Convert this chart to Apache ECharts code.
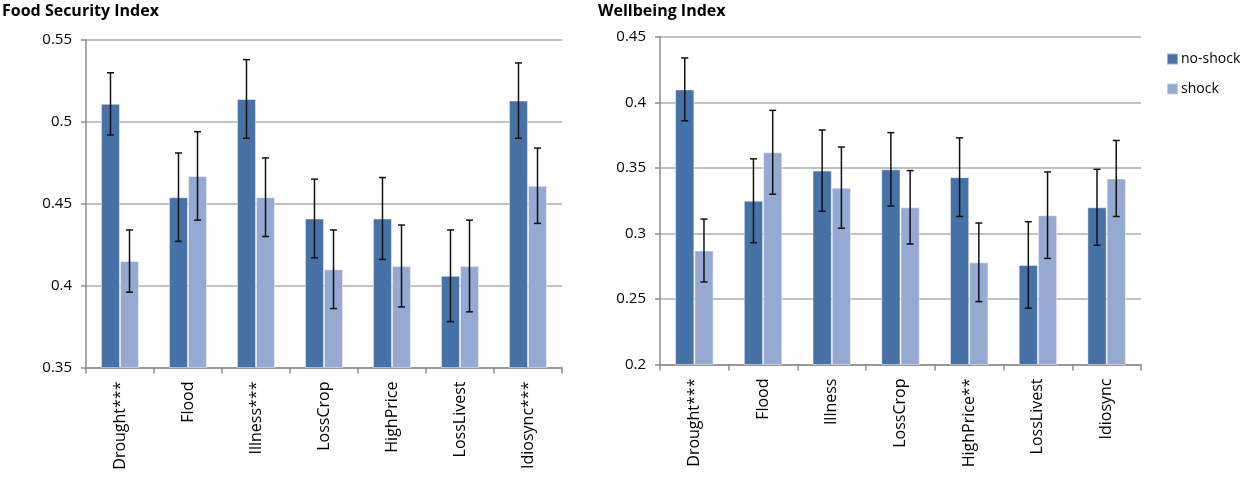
<!DOCTYPE html>
<html>
<head>
<meta charset="utf-8">
<script src="https://cdn.jsdelivr.net/npm/echarts@6/dist/echarts.min.js"></script>
<style>
  html, body { margin: 0; padding: 0; background: #fff; }
  #chart { width: 1240px; height: 479px; }
</style>
</head>
<body>
<div id="chart"></div>
<script>
// Categories (with significance stars) for each panel
const foodCategories = ['Drought***', 'Flood', 'Illness***', 'LossCrop', 'HighPrice', 'LossLivest', 'Idiosync***'];
const wellCategories = ['Drought***', 'Flood', 'Illness', 'LossCrop', 'HighPrice**', 'LossLivest', 'Idiosync'];

// Food Security Index: means and error half-widths
const foodNoShock    = [0.511, 0.454, 0.514, 0.441, 0.441, 0.406, 0.513];
const foodShock      = [0.415, 0.467, 0.454, 0.410, 0.412, 0.412, 0.461];
const foodNoShockErr = [0.019, 0.027, 0.024, 0.024, 0.025, 0.028, 0.023];
const foodShockErr   = [0.019, 0.027, 0.024, 0.024, 0.025, 0.028, 0.023];

// Wellbeing Index: means and error half-widths
const wellNoShock    = [0.410, 0.325, 0.348, 0.349, 0.343, 0.276, 0.320];
const wellShock      = [0.287, 0.362, 0.335, 0.320, 0.278, 0.314, 0.342];
const wellNoShockErr = [0.024, 0.032, 0.031, 0.028, 0.030, 0.033, 0.029];
const wellShockErr   = [0.024, 0.032, 0.031, 0.028, 0.030, 0.033, 0.029];

// Axis ranges
const foodAxis = { min: 0.35, max: 0.55, interval: 0.05 };
const wellAxis = { min: 0.20, max: 0.45, interval: 0.05 };

const DARK = '#4672A8';
const LIGHT = '#95A9D2';
const FONT = 'Open Sans';
const CAT_GAP = 0.44;

function errData(means, errs) {
  return means.map((m, i) => [i, m - errs[i], m + errs[i]]);
}

// Vertical whisker with caps, centred on the bar it belongs to
function errorBars(sign) {
  return function (params, api) {
    const idx = api.value(0);
    const lo = api.coord([idx, api.value(1)]);
    const hi = api.coord([idx, api.value(2)]);
    const catW = api.size([1, 0])[0];
    const bw = catW * (1 - CAT_GAP) / 2;
    const x = lo[0] + sign * bw / 2;
    const cap = 3.5;
    const style = { stroke: '#111', lineWidth: 1.5 };
    return {
      type: 'group',
      children: [
        { type: 'line', shape: { x1: x, y1: lo[1], x2: x, y2: hi[1] }, style },
        { type: 'line', shape: { x1: x - cap, y1: hi[1], x2: x + cap, y2: hi[1] }, style },
        { type: 'line', shape: { x1: x - cap, y1: lo[1], x2: x + cap, y2: lo[1] }, style }
      ]
    };
  };
}

function xAxis(cats, gridIndex) {
  return {
    type: 'category',
    gridIndex,
    data: cats,
    axisLine: { lineStyle: { color: '#8C8C8C', width: 1.5 } },
    axisTick: { show: true, length: 6, lineStyle: { color: '#8C8C8C', width: 1.5 } },
    axisLabel: { rotate: 90, margin: 14, fontSize: 16, color: '#000', fontFamily: FONT, interval: 0 }
  };
}

function yAxis(range, gridIndex) {
  return {
    type: 'value',
    gridIndex,
    min: range.min,
    max: range.max,
    interval: range.interval,
    axisLine: { show: true, lineStyle: { color: '#8C8C8C', width: 1.5 } },
    axisTick: { show: true, length: 5, lineStyle: { color: '#8C8C8C', width: 1.5 } },
    splitLine: { lineStyle: { color: '#ADADAD', width: 1.5 } },
    axisLabel: {
      margin: 14, fontSize: 15, color: '#000', fontFamily: FONT,
      formatter: v => String(+v.toFixed(2))
    }
  };
}

function barSeries(name, data, color, idx) {
  return {
    name, type: 'bar', xAxisIndex: idx, yAxisIndex: idx, data,
    barGap: '0%', barCategoryGap: (CAT_GAP * 100) + '%',
    itemStyle: { color, borderColor: 'rgba(255,255,255,0.45)', borderWidth: 1 },
    emphasis: { disabled: true }
  };
}

function errSeries(data, sign, idx) {
  return {
    type: 'custom', xAxisIndex: idx, yAxisIndex: idx,
    renderItem: errorBars(sign), data, z: 5, silent: true,
    encode: { x: 0, y: [1, 2] }
  };
}

const chart = echarts.init(document.getElementById('chart'), null, { renderer: 'canvas' });
chart.setOption({
  animation: false,
  textStyle: { fontFamily: FONT },
  title: [
    { text: 'Food Security Index', left: 2, top: 3, padding: 0, textStyle: { fontSize: 16, fontWeight: 'bold', color: '#000', fontFamily: FONT } },
    { text: 'Wellbeing Index', left: 598, top: 3, padding: 0, textStyle: { fontSize: 16, fontWeight: 'bold', color: '#000', fontFamily: FONT } }
  ],
  legend: {
    data: ['no-shock', 'shock'],
    orient: 'vertical',
    left: 1166, top: 52, padding: 0,
    itemWidth: 11, itemHeight: 11, itemGap: 16,
    icon: 'rect',
    textStyle: { fontSize: 14, color: '#000', fontFamily: FONT, padding: [0, 0, 0, -2] }
  },
  grid: [
    { left: 86, top: 40, width: 476, height: 327.5 },
    { left: 660, top: 37, width: 481, height: 327.5 }
  ],
  xAxis: [xAxis(foodCategories, 0), xAxis(wellCategories, 1)],
  yAxis: [yAxis(foodAxis, 0), yAxis(wellAxis, 1)],
  series: [
    barSeries('no-shock', foodNoShock, DARK, 0),
    barSeries('shock', foodShock, LIGHT, 0),
    errSeries(errData(foodNoShock, foodNoShockErr), -1, 0),
    errSeries(errData(foodShock, foodShockErr), 1, 0),
    barSeries('no-shock', wellNoShock, DARK, 1),
    barSeries('shock', wellShock, LIGHT, 1),
    errSeries(errData(wellNoShock, wellNoShockErr), -1, 1),
    errSeries(errData(wellShock, wellShockErr), 1, 1)
  ]
});
</script>
</body>
</html>
